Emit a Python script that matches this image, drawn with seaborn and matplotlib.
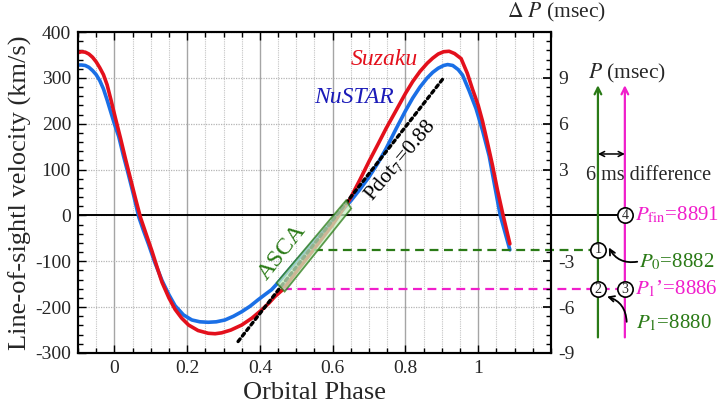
import numpy as np
import pandas as pd
import matplotlib
matplotlib.use("Agg")
import matplotlib.pyplot as plt
import seaborn as sns
from matplotlib.patches import Polygon
from matplotlib.ticker import MultipleLocator, FuncFormatter

# ---------------- data ----------------
suzaku_phase = [-0.100, -0.090, -0.080, -0.070, -0.060, -0.050, -0.040, -0.030, -0.020, -0.010,
                0.003, 0.017, 0.030, 0.044, 0.058, 0.072, 0.087, 0.103, 0.117, 0.131,
                0.150, 0.167, 0.185, 0.204, 0.230, 0.258, 0.277, 0.295, 0.320, 0.350,
                0.378, 0.405, 0.425, 0.441, 0.464, 0.500, 0.550, 0.600, 0.647, 0.675,
                0.700, 0.725, 0.747, 0.775, 0.800, 0.820, 0.840, 0.860, 0.875, 0.890,
                0.905, 0.920, 0.935, 0.953, 0.970, 0.984, 1.000, 1.012, 1.025, 1.039,
                1.053, 1.067, 1.087]
suzaku_vel = [355, 357, 356, 352, 345, 335, 322, 307, 285, 254,
              212, 168, 125, 81, 37, -5, -40, -77, -112, -146,
              -180, -205, -224, -239, -251, -257, -258, -256, -250, -239,
              -224, -206, -191, -177, -161, -123, -72, -20, 35, 78,
              118, 156, 190, 230, 266, 292, 314, 332, 343, 352,
              357, 358, 353, 342, 310, 276, 240, 205, 160, 110,
              55, 5, -62]

nustar_phase = [-0.100, -0.090, -0.080, -0.070, -0.060, -0.050, -0.040, -0.030, -0.020, -0.010,
                0.000, 0.012, 0.025, 0.039, 0.053, 0.067, 0.080, 0.094, 0.110, 0.131,
                0.150, 0.167, 0.190, 0.213, 0.235, 0.258, 0.280, 0.304, 0.327, 0.350,
                0.373, 0.395, 0.415, 0.432, 0.446, 0.500, 0.550, 0.600, 0.650, 0.675,
                0.700, 0.725, 0.747, 0.775, 0.800, 0.820, 0.840, 0.860, 0.875, 0.890,
                0.905, 0.916, 0.930, 0.945, 0.957, 0.975, 0.994, 1.012, 1.030, 1.045,
                1.060, 1.087]
nustar_vel = [328, 328, 327, 323, 316, 307, 294, 276, 252, 226,
              200, 172, 130, 88, 44, -3, -33, -63, -100, -142,
              -173, -197, -217, -228, -232, -233, -232, -228, -220, -210,
              -198, -184, -172, -162, -150, -100, -55, -12, 32, 57,
              84, 115, 146, 190, 228, 256, 280, 300, 312, 321,
              327, 329, 327, 318, 306, 272, 233, 185, 130, 66,
              2, -75]

pdot_phase = [0.34, 0.907]
pdot_vel = [-275, 302]

asca_box_phase = [0.446, 0.637, 0.651, 0.468]
asca_box_vel = [-147, 33, 15, -166]

kms_per_ms = 100.0 / 3.0          # right axis scale (km/s per msec)
p0_level = -75                     # km/s  (green dashed)
p1_level = -161                    # km/s  (magenta dashed)

xticks = [0, 0.2, 0.4, 0.6, 0.8, 1.0]
yticks = [-300, -200, -100, 0, 100, 200, 300, 400]
dp_ticks = [-9, -6, -3, 3, 6, 9]

# ---------------- style ----------------
sns.set_theme(style="ticks")
plt.rcParams["font.family"] = ["Liberation Serif", "DejaVu Serif"]
plt.rcParams["mathtext.fontset"] = "stix"

RED = "#e3101c"
BLUE = "#1a6fe6"
DBLUE = "#1a1ab8"
GREEN = "#2a7a16"
MAGENTA = "#f01ecb"

fig = plt.figure(figsize=(7.18, 4.13), dpi=100)
ax = fig.add_axes([0.1086, 0.1453, 0.6588, 0.7772])

df = pd.concat([
    pd.DataFrame({"phase": nustar_phase, "vel": nustar_vel, "mission": "NuSTAR"}),
    pd.DataFrame({"phase": suzaku_phase, "vel": suzaku_vel, "mission": "Suzaku"}),
])
sns.lineplot(data=df, x="phase", y="vel", hue="mission",
             palette={"Suzaku": RED, "NuSTAR": BLUE}, sort=False, estimator=None,
             linewidth=2.6, legend=False, ax=ax, zorder=4)
for ln in ax.lines:
    ln.set_solid_joinstyle("round")

ax.set_xlim(-0.1, 1.2)
ax.set_ylim(-300, 400)
ax.xaxis.set_major_locator(plt.FixedLocator(xticks))
ax.xaxis.set_minor_locator(MultipleLocator(0.05))
ax.yaxis.set_major_locator(plt.FixedLocator(yticks))
ax.yaxis.set_minor_locator(MultipleLocator(20))
ax.xaxis.set_major_formatter(FuncFormatter(lambda v, p: f"{v:g}"))
ax.yaxis.set_major_formatter(FuncFormatter(lambda v, p: f"{v:g}"))
ax.tick_params(which="both", direction="in", top=True, right=False, labelsize=14,
               width=1.0, color="black")
ax.tick_params(which="major", length=6, pad=5)
ax.tick_params(which="minor", length=3.5)
ax.grid(which="major", axis="x", color="#a5a5a5", lw=1.0, ls="-")
ax.grid(which="minor", axis="x", color="#c4c4c4", lw=0.8, ls=(0, (1, 1)))
ax.grid(which="major", axis="y", color="#b5b5b5", lw=0.9, ls=(0, (1, 1)))
ax.set_axisbelow(True)
for s in ax.spines.values():
    s.set_linewidth(1.5)
    s.set_color("black")
ax.set_xlabel("Orbital Phase", fontsize=19, labelpad=4)
ax.set_ylabel("Line-of-sightl velocity (km/s)", fontsize=19, labelpad=2)

# right axis (Delta P)
ax2 = ax.twinx()
ax2.set_ylim(-300 / kms_per_ms, 400 / kms_per_ms)
ax2.yaxis.set_major_locator(plt.FixedLocator(dp_ticks + [0, 12]))
ax2.yaxis.set_major_formatter(FuncFormatter(lambda v, p: f"{v:g}" if round(v) in dp_ticks else ""))
ax2.yaxis.set_minor_locator(MultipleLocator(0.6))
ax2.tick_params(which="both", direction="in", labelsize=14, color="black")
ax2.tick_params(which="major", length=6, pad=5)
ax2.tick_params(which="minor", length=3.5)
ax2.grid(False)
for s in ax2.spines.values():
    s.set_linewidth(1.5)
    s.set_color("black")

# zero line extended to circle 4
x_green = 1.329
x_mag = 1.403
ax.plot([-0.1, x_mag - 0.02], [0, 0], color="black", lw=1.4, zorder=3, clip_on=False)

# Pdot dotted line
ax.plot(pdot_phase, pdot_vel, color="black", lw=2.4, ls=(0, (1, 1.1)), zorder=5,
        dash_capstyle="round")

# dashed period levels
ax.plot([0.548, x_green - 0.02], [p0_level, p0_level], color=GREEN, lw=1.6,
        ls=(0, (4, 2.5)), zorder=5, clip_on=False)
ax.plot([0.464, x_mag - 0.02], [p1_level, p1_level], color=MAGENTA, lw=1.6,
        ls=(0, (4, 2.5)), zorder=5, clip_on=False)

# ASCA box
box = Polygon(list(zip(asca_box_phase, asca_box_vel)), closed=True,
              facecolor="#c6efc0", edgecolor=GREEN, lw=1.3, alpha=0.75, zorder=6)
ax.add_patch(box)
ax.text(0.462, -80, "ASCA", color=GREEN, fontsize=17.5, rotation=52, ha="center",
        va="center", zorder=7)

# curve labels
ax.text(0.742, 339, "Suzaku", color=RED, fontsize=17, style="italic", ha="center",
        va="center", zorder=7)
ax.text(0.658, 258, "NuSTAR", color=DBLUE, fontsize=17, style="italic", ha="center",
        va="center", zorder=7)
ax.text(0.786, 121, r"Pdot$_7$=0.88", color="black", fontsize=15.5, rotation=50,
        ha="center", va="center", zorder=7)

# right-hand schematic
ax.text(1.216, 443, r"$\Delta\ P$ (msec)", fontsize=15.5, ha="center", va="center",
        clip_on=False)
ax.text(1.408, 310, r"$P$ (msec)", fontsize=15.5, ha="center", va="center", clip_on=False)

for xx, col in [(x_green, GREEN), (x_mag, MAGENTA)]:
    ax.annotate("", xy=(xx, 284), xytext=(xx, -266), annotation_clip=False,
                arrowprops=dict(arrowstyle="->", color=col, lw=1.6, shrinkA=0,
                                shrinkB=0, mutation_scale=12))
ax.annotate("", xy=(x_green, 134), xytext=(x_mag, 134), annotation_clip=False,
            arrowprops=dict(arrowstyle="<->", color="black", lw=1.1, shrinkA=0,
                            shrinkB=0, mutation_scale=9))
ax.text(1.468, 88, "6 ms difference", fontsize=14.5, ha="center", va="center",
        clip_on=False, zorder=8)

circles = [(x_mag, 0, "4"), (x_green, p0_level, "1"), (x_green, p1_level, "2"),
           (x_mag, p1_level, "3")]
for cx, cy, lab in circles:
    ax.plot([cx], [cy], "o", ms=11, mfc="white", mec="black", mew=1.2, clip_on=False,
            zorder=9)
    ax.text(cx, cy, lab, fontsize=10, ha="center", va="center", clip_on=False, zorder=10)

ax.text(1.431, 0, r"$P_{\rm fin}$=8891", color=MAGENTA, fontsize=15, ha="left",
        va="center", clip_on=False)
ax.text(1.441, -101, r"$P_0$=8882", color=GREEN, fontsize=15, ha="left",
        va="center", clip_on=False)
ax.text(1.431, p1_level, r"$P_1$’=8886", color=MAGENTA, fontsize=15, ha="left",
        va="center", clip_on=False)
ax.text(1.433, -235, r"$P_1$=8880", color=GREEN, fontsize=15, ha="left",
        va="center", clip_on=False)

ax.annotate("", xy=(1.359, -70), xytext=(1.437, -101), annotation_clip=False,
            arrowprops=dict(arrowstyle="->", color="black", lw=1.3, shrinkA=0,
                            shrinkB=0, connectionstyle="arc3,rad=-0.35",
                            mutation_scale=10))
ax.annotate("", xy=(1.354, -177), xytext=(1.408, -232), annotation_clip=False,
            arrowprops=dict(arrowstyle="->", color="black", lw=1.3, shrinkA=0,
                            shrinkB=0, connectionstyle="arc3,rad=0.35",
                            mutation_scale=10))

fig.savefig("out.png", dpi=100)
